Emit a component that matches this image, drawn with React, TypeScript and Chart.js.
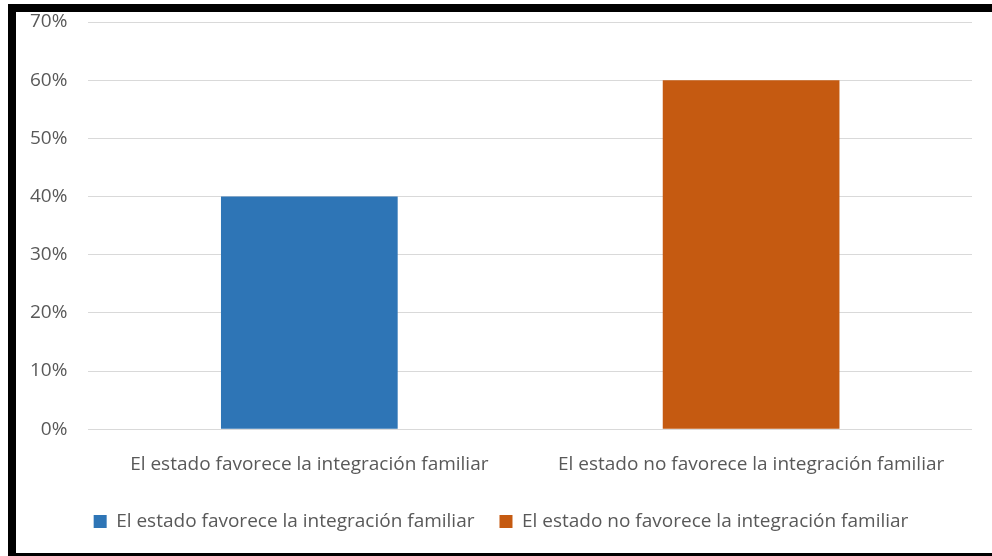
import React, { useEffect, useRef } from "react";
import { Chart, registerables } from "chart.js";

Chart.register(...registerables);

const categories = [
  "El estado favorece la integración familiar",
  "El estado no favorece la integración familiar",
];
const seriesNames = [
  "El estado favorece la integración familiar",
  "El estado no favorece la integración familiar",
];
const seriesValues = [0.4, 0.6];
const seriesColors = ["#2E75B6", "#C55A11"];
const yMax = 0.7;
const yStep = 0.1;

const FONT = "'Open Sans', sans-serif";
const TEXT = "#595959";
const FS = 19;

export default function App() {
  const ref = useRef<HTMLCanvasElement | null>(null);
  useEffect(() => {
    if (!ref.current) return;
    const datasets = seriesNames.map((name, i) => ({
      label: name,
      data: categories.map((_, j) => (j === i ? seriesValues[i] : null)),
      backgroundColor: seriesColors[i],
      borderWidth: 0,
      categoryPercentage: 1,
      barPercentage: 0.4,
      skipNull: true,
    }));
    const chart = new Chart(ref.current, {
      type: "bar",
      data: { labels: categories, datasets: datasets as any },
      options: {
        animation: false,
        responsive: false,
        maintainAspectRatio: false,
        layout: { padding: { top: 10, right: 20, bottom: 12, left: 14 } },
        plugins: {
          tooltip: { enabled: false },
          legend: {
            position: "bottom",
            labels: {
              boxWidth: 13,
              boxHeight: 13,
              padding: 25,
              color: TEXT,
              font: { family: FONT, size: FS },
            },
          },
        },
        scales: {
          x: {
            grid: { display: false },
            border: { display: false },
            ticks: {
              color: TEXT,
              font: { family: FONT, size: FS },
              padding: 16,
              maxRotation: 0,
            },
            afterFit: (scale: any) => {
              scale.paddingLeft = 0;
              scale.paddingRight = 0;
              scale.height = scale.height - 5;
            },
          },
          y: {
            min: 0,
            max: yMax,
            grid: { color: "#D9D9D9", lineWidth: 1, drawTicks: false },
            border: { display: false },
            ticks: {
              stepSize: yStep,
              color: TEXT,
              font: { family: FONT, size: FS },
              padding: 21,
              callback: (v: any) => Math.round(Number(v) * 100) + "%",
            },
            afterFit: (scale: any) => {
              scale.paddingTop = 0;
              scale.paddingBottom = 0;
              scale.width = scale.width - 21;
            },
          },
        },
      },
    });
    return () => chart.destroy();
  }, []);
  return (
    <div
      style={{
        position: "absolute",
        left: 8,
        top: 4,
        width: 984,
        height: 552,
        boxSizing: "border-box",
        borderTop: "8px solid #000",
        borderLeft: "8px solid #000",
        borderBottom: "3px solid #000",
        background: "#fff",
      }}
    >
      <canvas ref={ref} width={976} height={541} style={{ display: "block" }} />
    </div>
  );
}
